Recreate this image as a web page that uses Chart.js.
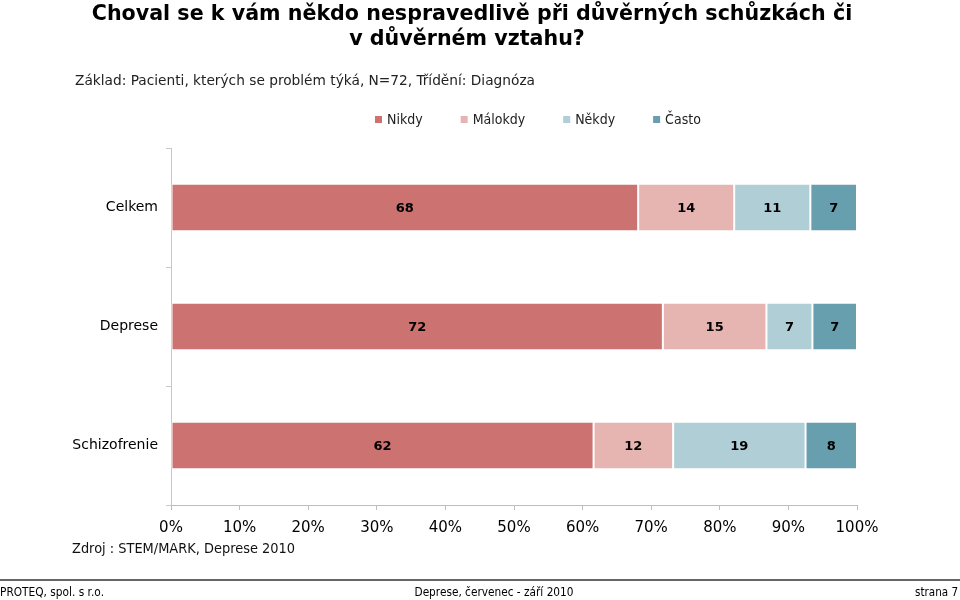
<!DOCTYPE html>
<html>
<head>
<meta charset="utf-8">
<script src="https://cdn.jsdelivr.net/npm/chart.js@4/dist/chart.umd.min.js"></script>
<style>
html,body{margin:0;padding:0;background:#fff;}
#wrap{position:relative;width:960px;height:600px;}
</style>
</head>
<body>
<div id="wrap"><canvas id="c" width="960" height="600"></canvas></div>
<script>
// ---- data ----
const titleLines = ['Choval se k vám někdo nespravedlivě při důvěrných schůzkách či', 'v důvěrném vztahu?'];
const subtitle = 'Základ: Pacienti, kterých se problém týká, N=72, Třídění: Diagnóza';
const sourceNote = 'Zdroj : STEM/MARK, Deprese 2010';
const footerLeft = 'PROTEQ, spol. s r.o.';
const footerCenter = 'Deprese, červenec - září 2010';
const footerRight = 'strana 7';

const categories = ['Celkem', 'Deprese', 'Schizofrenie'];
const seriesNames = ['Nikdy', 'Málokdy', 'Někdy', 'Často'];
const nikdy   = [68.1, 71.7, 61.6];
const malokdy = [14.0, 15.1, 11.6];
const nekdy   = [11.1, 6.7, 19.3];
const casto   = [6.8, 6.5, 7.5];
const xTickValues = [0, 10, 20, 30, 40, 50, 60, 70, 80, 90, 100];

const seriesColors = ['#CC7270', '#E6B5B2', '#AFCED6', '#689FAF'];
const seriesValues = [nikdy, malokdy, nekdy, casto];

const FONT = '"DejaVu Sans", Verdana, sans-serif';
const FONT_C = '"DejaVu Sans Condensed", "DejaVu Sans", sans-serif';

function fitText(ctx, text, x, y, targetW) {
  const w = ctx.measureText(text).width;
  ctx.save();
  ctx.translate(x, y);
  ctx.scale(targetW / w, 1);
  ctx.fillText(text, 0, 0);
  ctx.restore();
}
function scaledText(ctx, text, x, y, s) {
  ctx.save();
  ctx.translate(x, y);
  ctx.scale(s, 1);
  ctx.fillText(text, 0, 0);
  ctx.restore();
}

const decorPlugin = {
  id: 'decor',
  afterDraw(chart) {
    const ctx = chart.ctx;
    ctx.save();
    ctx.fillStyle = '#000';
    // title
    ctx.font = 'bold 22px ' + FONT;
    ctx.textBaseline = 'middle';
    ctx.textAlign = 'center';
    const tw = ctx.measureText(titleLines[0]).width + ctx.measureText(titleLines[1]).width;
    const ts = (731 + 265) / tw;
    scaledText(ctx, titleLines[0], 472, 14, ts);
    scaledText(ctx, titleLines[1], 467, 39, ts);

    // subtitle
    ctx.font = '14px ' + FONT_C;
    ctx.textAlign = 'left';
    ctx.fillStyle = '#222';
    fitText(ctx, subtitle, 75, 81, 460);

    // legend
    ctx.font = '14px ' + FONT_C;
    let lx = 375;
    chart.data.datasets.forEach((ds) => {
      ctx.fillStyle = ds.backgroundColor;
      ctx.fillRect(lx, 116, 7, 7);
      ctx.fillStyle = '#222';
      ctx.fillText(ds.label, lx + 12, 120);
      lx += 12 + ctx.measureText(ds.label).width + 38;
    });

    // source note
    ctx.font = '14px ' + FONT;
    ctx.fillStyle = '#111';
    fitText(ctx, sourceNote, 72, 549, 223);

    // footer
    ctx.strokeStyle = '#666';
    ctx.lineWidth = 2;
    ctx.beginPath();
    ctx.moveTo(0, 580);
    ctx.lineTo(960, 580);
    ctx.stroke();
    ctx.font = '12px ' + FONT;
    ctx.fillStyle = '#000';
    ctx.textAlign = 'left';
    fitText(ctx, footerLeft, 0, 593, 104);
    ctx.textAlign = 'center';
    fitText(ctx, footerCenter, 494, 593, 159);
    ctx.textAlign = 'right';
    fitText(ctx, footerRight, 958, 593, 43);

    // data labels
    ctx.font = 'bold 13px ' + FONT;
    ctx.textAlign = 'center';
    ctx.fillStyle = '#000';
    chart.data.datasets.forEach((ds, di) => {
      const meta = chart.getDatasetMeta(di);
      meta.data.forEach((el, i) => {
        const p = el.getCenterPoint();
        ctx.fillText(String(Math.round(ds.data[i])), p.x, p.y + 1);
      });
    });
    ctx.restore();
  }
};

new Chart(document.getElementById('c'), {
  type: 'bar',
  data: {
    labels: categories,
    datasets: seriesNames.map((name, k) => ({
      label: name,
      data: seriesValues[k],
      backgroundColor: seriesColors[k],
      borderColor: '#ffffff',
      borderWidth: {left: 1, right: 1, top: 0, bottom: 0},
      borderSkipped: false,
      categoryPercentage: 1,
      barPercentage: 0.387
    }))
  },
  options: {
    indexAxis: 'y',
    responsive: false,
    animation: false,
    layout: {padding: {left: 0, right: 103, top: 148, bottom: 55}},
    plugins: {
      legend: {display: false},
      title: {display: false},
      tooltip: {enabled: false}
    },
    scales: {
      x: {
        stacked: true,
        min: 0,
        max: 100,
        afterBuildTicks(scale) { scale.ticks = xTickValues.map(v => ({value: v})); },
        afterFit(scale) { scale.height = 40; },
        grid: {drawOnChartArea: false, drawTicks: true, tickLength: 5, color: '#bdbdbd'},
        border: {display: true, color: '#bdbdbd'},
        ticks: {
          callback: (v) => v + '%',
          color: '#000',
          padding: 9,
          maxRotation: 0,
          font: {family: FONT, size: 15}
        }
      },
      y: {
        stacked: true,
        offset: true,
        afterFit(scale) { scale.width = 171; },
        grid: {drawOnChartArea: false, drawTicks: true, tickLength: 5, color: '#c8c8c8', offset: true},
        border: {display: true, color: '#c8c8c8'},
        ticks: {
          color: '#000',
          padding: 8,
          font: {family: FONT, size: 14}
        }
      }
    }
  },
  plugins: [decorPlugin]
});
</script>
</body>
</html>
